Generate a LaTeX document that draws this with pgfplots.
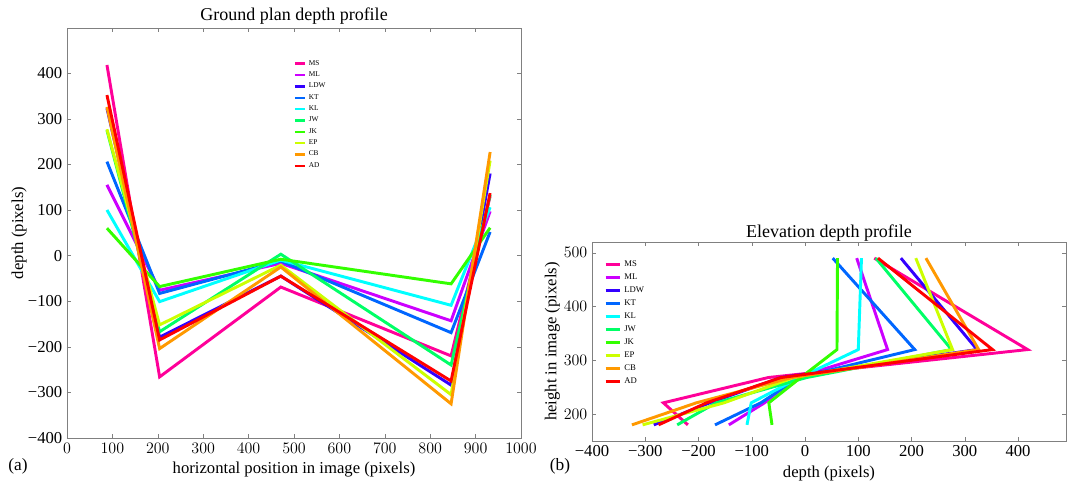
\documentclass[border=0pt]{standalone}
\usepackage{fontspec}
\setmainfont{Liberation Serif}
\usepackage{pgfplots}
\pgfplotsset{compat=1.18}

\definecolor{cMS}{HTML}{FF0099}
\definecolor{cML}{HTML}{CC00FF}
\definecolor{cLDW}{HTML}{3300FF}
\definecolor{cKT}{HTML}{0066FF}
\definecolor{cKL}{HTML}{00FFFF}
\definecolor{cJW}{HTML}{00FF66}
\definecolor{cJK}{HTML}{33FF00}
\definecolor{cEP}{HTML}{CCFF00}
\definecolor{cCB}{HTML}{FF9900}
\definecolor{cAD}{HTML}{FF0000}

\begin{document}
\begin{tikzpicture}
\useasboundingbox (0,0) rectangle (801pt,361.5pt);
\pgfplotsset{
  every axis/.append style={
    scale only axis, anchor=south west,
    axis line style={black!50}, tick style={black!50},
    tick align=inside, major tick length=3pt,
    ticklabel style={font=\fontsize{12.5}{14}\selectfont},
    label style={font=\fontsize{12.5}{14}\selectfont},
    title style={font=\fontsize{13.5}{16}\selectfont},
    legend cell align=left,
    every axis plot/.append style={line width=2.2pt},
  }
}

% ground plan: depth at five horizontal positions
\begin{axis}[
  at={(50.25pt,33pt)}, width=340.5pt, height=307.5pt,
  xmin=0, xmax=1000, ymin=-400, ymax=499,
  xtick={0,100,...,1000},
  xticklabel style={/pgf/number format/1000 sep={}},
  ytick={-400,-300,...,400},
  yticklabels={−400,−300,−200,−100,0,100,200,300,400},
  title={Ground plan depth profile},
  title style={yshift=-7pt},
  xlabel={horizontal position in image (pixels)},
  ylabel={depth (pixels)},
  ylabel shift=-6pt,
  legend style={draw=none, fill=none, at={(0.49,0.935)}, anchor=north west,
    font=\fontsize{5.5}{6}\selectfont, row sep=-0.6pt},
  legend image code/.code={\draw[#1, line width=1.8pt] (0pt,0pt) -- (7.5pt,0pt);},
]
\addplot[cMS]  coordinates {(88,418) (204,-266) (471,-69) (846,-220) (932,130)};
\addlegendentry{MS}
\addplot[cML]  coordinates {(88,155) (204,-76) (471,-17) (846,-143) (932,97)};
\addlegendentry{ML}
\addplot[cLDW] coordinates {(88,323) (204,-179) (471,-45) (846,-284) (932,180)};
\addlegendentry{LDW}
\addplot[cKT]  coordinates {(88,206) (204,-83) (471,-12) (846,-169) (932,52)};
\addlegendentry{KT}
\addplot[cKL]  coordinates {(88,100) (204,-101) (471,-10) (846,-109) (932,106)};
\addlegendentry{KL}
\addplot[cJW]  coordinates {(88,275) (204,-167) (471,3) (846,-240) (932,133)};
\addlegendentry{JW}
\addplot[cJK]  coordinates {(88,60) (204,-68) (471,-8) (846,-62) (932,61)};
\addlegendentry{JK}
\addplot[cEP]  coordinates {(88,277) (204,-152) (471,-21) (846,-305) (932,208)};
\addlegendentry{EP}
\addplot[cCB]  coordinates {(88,326) (204,-204) (471,-25) (846,-325) (932,227)};
\addlegendentry{CB}
\addplot[cAD]  coordinates {(88,352) (204,-185) (471,-45) (846,-275) (932,137)};
\addlegendentry{AD}
\end{axis}

% elevation: same depths against height in image
\begin{axis}[
  at={(444pt,30.75pt)}, width=355.5pt, height=149.25pt,
  xmin=-400, xmax=490, ymin=150, ymax=520,
  xtick={-400,-300,...,400},
  xticklabels={−400,−300,−200,−100,0,100,200,300,400},
  ytick={200,300,400,500},
  title={Elevation depth profile},
  title style={yshift=-9pt},
  xlabel={depth (pixels)},
  ylabel={height in image (pixels)},
  ylabel shift=-4pt,
  legend style={draw=none, fill=none, at={(0.017,0.935)}, anchor=north west,
    font=\fontsize{6.5}{7}\selectfont, row sep=0pt},
  legend image code/.code={\draw[#1, line width=2pt] (0pt,0pt) -- (11pt,0pt);},
]
\addplot[cMS]  coordinates {(130,490) (418,320) (-69,268) (-266,221) (-220,180)};
\addlegendentry{MS}
\addplot[cML]  coordinates {(97,490) (155,320) (-17,268) (-76,221) (-143,180)};
\addlegendentry{ML}
\addplot[cLDW] coordinates {(180,490) (323,320) (-45,268) (-179,221) (-284,180)};
\addlegendentry{LDW}
\addplot[cKT]  coordinates {(52,490) (206,320) (-12,268) (-83,221) (-169,180)};
\addlegendentry{KT}
\addplot[cKL]  coordinates {(106,490) (100,320) (-10,268) (-101,221) (-109,180)};
\addlegendentry{KL}
\addplot[cJW]  coordinates {(133,490) (275,320) (3,268) (-167,221) (-240,180)};
\addlegendentry{JW}
\addplot[cJK]  coordinates {(61,490) (60,320) (-8,268) (-68,221) (-62,180)};
\addlegendentry{JK}
\addplot[cEP]  coordinates {(208,490) (277,320) (-21,268) (-152,221) (-305,180)};
\addlegendentry{EP}
\addplot[cCB]  coordinates {(227,490) (326,320) (-25,268) (-204,221) (-325,180)};
\addlegendentry{CB}
\addplot[cAD]  coordinates {(137,490) (352,320) (-45,268) (-185,221) (-275,180)};
\addlegendentry{AD}
\end{axis}

\node[font=\fontsize{13}{15}\selectfont] at (13.5pt,12pt) {(a)};
\node[font=\fontsize{13}{15}\selectfont] at (420pt,12pt) {(b)};
\end{tikzpicture}
\end{document}
